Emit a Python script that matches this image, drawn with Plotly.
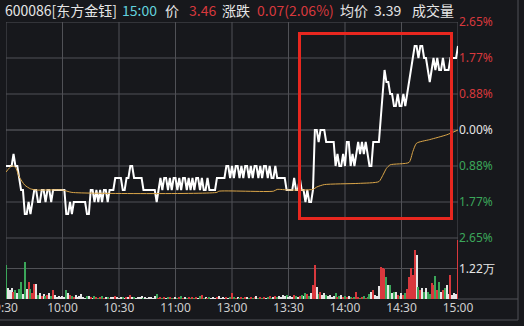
import plotly.graph_objects as go

# ---------------- data ----------------
PREV_CLOSE = 3.39

# minute-by-minute last price, 9:30 .. 11:30 | 13:00 .. 15:00 (241 points)
price = [
    3.36, 3.36, 3.36, 3.36, 3.37, 3.36, 3.36, 3.35, 3.34, 3.34,
    3.32, 3.32, 3.33, 3.32, 3.33, 3.34, 3.34, 3.33, 3.33, 3.34,
    3.34, 3.33, 3.34, 3.34, 3.33, 3.34, 3.34, 3.34, 3.34, 3.34,
    3.34, 3.34, 3.32, 3.32, 3.33, 3.32, 3.33, 3.33, 3.33, 3.33,
    3.33, 3.33, 3.33, 3.32, 3.32, 3.34, 3.34, 3.33, 3.34, 3.33,
    3.34, 3.33, 3.34, 3.34, 3.33, 3.34, 3.34, 3.34, 3.35, 3.35,
    3.35, 3.35, 3.34, 3.34, 3.35, 3.35, 3.36, 3.36, 3.35, 3.35,
    3.35, 3.35, 3.35, 3.34, 3.34, 3.34, 3.34, 3.34, 3.34, 3.34,
    3.33, 3.34, 3.35, 3.34, 3.35, 3.35, 3.34, 3.35, 3.34, 3.35,
    3.35, 3.34, 3.35, 3.34, 3.35, 3.35, 3.34, 3.35, 3.34, 3.35,
    3.34, 3.35, 3.35, 3.34, 3.35, 3.34, 3.34, 3.35, 3.34, 3.34,
    3.34, 3.34, 3.35, 3.35, 3.35, 3.35, 3.35, 3.36, 3.36, 3.35,
    3.36, 3.35, 3.36, 3.36, 3.35, 3.36, 3.35, 3.36, 3.36, 3.35,
    3.36, 3.35, 3.36, 3.36, 3.35, 3.36, 3.35, 3.36, 3.36, 3.35,
    3.36, 3.35, 3.35, 3.36, 3.35, 3.35, 3.35, 3.35, 3.35, 3.34,
    3.34, 3.34, 3.34, 3.35, 3.34, 3.34, 3.35, 3.34, 3.34, 3.33,
    3.34, 3.33, 3.33, 3.34, 3.39, 3.39, 3.38, 3.39, 3.39, 3.39,
    3.38, 3.38, 3.38, 3.38, 3.38, 3.36, 3.37, 3.36, 3.36, 3.37,
    3.36, 3.38, 3.38, 3.36, 3.37, 3.36, 3.37, 3.38, 3.37, 3.38,
    3.37, 3.38, 3.37, 3.36, 3.36, 3.38, 3.38, 3.38, 3.38, 3.40,
    3.42, 3.44, 3.43, 3.43, 3.42, 3.42, 3.41, 3.41, 3.42, 3.41,
    3.41, 3.42, 3.41, 3.42, 3.43, 3.44, 3.45, 3.46, 3.46, 3.45,
    3.46, 3.46, 3.45, 3.45, 3.44, 3.43, 3.44, 3.45, 3.44, 3.45,
    3.44, 3.44, 3.45, 3.44, 3.44, 3.44, 3.45, 3.45, 3.45, 3.45,
    3.46,
]

# minute volume (lots)
volume = [
    13600, 4300, 3600, 4500, 2900, 3600, 2300, 3900, 6900, 2000,
    14900, 3900, 6900, 4100, 2400, 6000, 6000, 1600, 2400, 1200,
    2000, 1200, 1600, 2400, 1200, 3600, 1600, 800, 1200, 800,
    1200, 800, 3600, 2500, 1600, 1200, 800, 1600, 800, 1200,
    2000, 800, 400, 1200, 1200, 800, 400, 1200, 800, 400,
    800, 1200, 400, 800, 800, 400, 800, 800, 1200, 800,
    400, 800, 800, 400, 800, 800, 1600, 800, 800, 400,
    800, 800, 1200, 400, 800, 400, 800, 800, 400, 1200,
    2000, 400, 800, 400, 800, 400, 800, 800, 400, 400,
    800, 400, 800, 1200, 400, 800, 400, 800, 400, 800,
    400, 800, 400, 1200, 1600, 400, 800, 400, 800, 400,
    800, 400, 800, 1200, 400, 800, 400, 800, 400, 800,
    2500, 800, 400, 800, 400, 800, 400, 800, 800, 400,
    800, 400, 800, 1200, 400, 800, 400, 800, 400, 800,
    1200, 400, 800, 1200, 800, 1200, 800, 1600, 1200, 1600,
    800, 1200, 800, 1600, 1200, 800, 1200, 1600, 1200, 2300,
    2000, 1200, 2400, 5600, 13600, 4900, 2000, 2900, 1600, 2300,
    1600, 1200, 1600, 800, 1200, 2300, 800, 1200, 1600, 800,
    1200, 800, 1200, 800, 400, 800, 2900, 800, 400, 800,
    1200, 400, 800, 2000, 2900, 3600, 1600, 1200, 5200, 12900,
    12300, 11900, 8900, 5600, 5600, 2300, 2900, 2900, 1600, 1200,
    2300, 1600, 2500, 3900, 8900, 12300, 9600, 19600, 17600, 4900,
    3600, 4300, 2900, 4300, 2900, 2000, 6300, 5600, 9200, 3600,
    6900, 2900, 3600, 4300, 5600, 2000, 9600, 1600, 2400, 2000,
    23600,
]

# average price line, read at selected minutes
avg_min = [0, 3, 5, 7, 10, 13, 16, 30, 35, 112, 113, 142, 144, 150, 163, 165,
           169, 187, 198, 200, 202, 204, 214, 216, 218, 225, 234, 240]
avg_price = [3.355, 3.360, 3.359, 3.351, 3.344, 3.341, 3.340, 3.340, 3.338,
             3.338, 3.339, 3.339, 3.3405, 3.340, 3.3405, 3.3425, 3.3445,
             3.3455, 3.347, 3.352, 3.358, 3.361, 3.363, 3.372, 3.379, 3.382,
             3.386, 3.390]

time_ticks = [0, 30, 60, 90, 120, 150, 180, 210, 240]
time_labels = ["9:30", "10:00", "10:30", "11:00", "13:00", "13:30", "14:00", "14:30", "15:00"]

pct_tickvals = [3.30, 3.33, 3.36, 3.39, 3.42, 3.45, 3.48]
pct_ticktext = ["2.65%", "1.77%", "0.88%", "0.00%", "0.88%", "1.77%", "2.65%"]

vol_tickvals = [0, 12200, 24400]
vol_ticktext = ["", "1.22万", ""]

# ---------------- style ----------------
BG = "#17181c"
GRID = "#505156"
RED = "#d8383d"
GREEN = "#3ba65a"
WHITE = "#e6e6e6"
CYAN = "#62d2dc"
ORANGE = "#dba649"
FONT = "Noto Sans"
CJK = "Noto Sans CJK SC"

W, H = 524, 326
L, R, T, B = 6, 458, 22, 299        # plot area in pixels
VOL_TOP = 238


def px_x(px):
    return (px - L) / (R - L)


def px_y(py):
    return (B - py) / (B - T)


minutes = list(range(len(price)))

bar_colors = []
for i, p in enumerate(price):
    ref = PREV_CLOSE if i == 0 else price[i - 1]
    bar_colors.append(RED if p > ref else (GREEN if p < ref else WHITE))


def colored_pct(val, txt):
    if abs(val - PREV_CLOSE) < 1e-9:
        c = WHITE
    elif val > PREV_CLOSE:
        c = RED
    else:
        c = GREEN
    return f'<span style="color:{c}">{txt}</span>'


pct_labels = [colored_pct(v, t) for v, t in zip(pct_tickvals, pct_ticktext)]

fig = go.Figure()

fig.add_trace(go.Scatter(
    x=minutes, y=price, mode="lines",
    line=dict(color="#ffffff", width=2),
    xaxis="x", yaxis="y", hoverinfo="skip", showlegend=False))

fig.add_trace(go.Scatter(
    x=avg_min, y=avg_price, mode="lines",
    line=dict(color=ORANGE, width=1, shape="spline", smoothing=0.6),
    xaxis="x", yaxis="y", hoverinfo="skip", showlegend=False))

fig.add_trace(go.Bar(
    x=minutes, y=volume, marker=dict(color=bar_colors, line=dict(width=0)),
    width=0.6, xaxis="x2", yaxis="y2", hoverinfo="skip", showlegend=False))

vol_frac = (B - VOL_TOP) / (B - T)

axis_common = dict(showline=False, zeroline=False, showgrid=False,
                   ticks="", fixedrange=True)

fig.update_layout(
    template="none",
    width=W, height=H,
    margin=dict(l=L, r=W - R, t=T, b=H - B, pad=0),
    paper_bgcolor=BG, plot_bgcolor=BG,
    bargap=0,
    xaxis=dict(domain=[0, 1], range=[0, 240], anchor="y", tickvals=time_ticks,
               showticklabels=False, **axis_common),
    xaxis2=dict(domain=[0, 1], range=[0, 240], anchor="y2",
                tickvals=time_ticks, ticktext=time_labels, ticklabeloverflow="allow",
                tickfont=dict(family=FONT, size=12, color="#cfcfcf"), **axis_common),
    yaxis=dict(domain=[vol_frac, 1], range=[3.30, 3.48], anchor="x", side="right",
               tickvals=pct_tickvals, ticktext=pct_labels, ticklabeloverflow="allow",
               tickfont=dict(family=FONT, size=12), **axis_common),
    yaxis2=dict(domain=[0, vol_frac], range=[0, 24400], anchor="x2", side="right",
                tickvals=vol_tickvals, ticktext=vol_ticktext,
                tickfont=dict(family=FONT, size=12, color=WHITE), **axis_common),
)

# grid drawn from the tick arrays
for t in time_ticks:
    fig.add_shape(type="line", xref="x", yref="paper", x0=t, x1=t, y0=0, y1=1,
                  line=dict(color=GRID, width=1), layer="below")
for v in pct_tickvals:
    col = "#66676c" if abs(v - PREV_CLOSE) < 1e-9 else GRID
    fig.add_shape(type="line", xref="x", yref="y", x0=0, x1=240, y0=v, y1=v,
                  line=dict(color=col, width=1), layer="below")
for v in vol_tickvals:
    fig.add_shape(type="line", xref="x2", yref="y2", x0=0, x1=240, y0=v, y1=v,
                  line=dict(color=GRID, width=1), layer="below")

# frame lines outside the plot
fig.add_shape(type="line", xref="paper", yref="paper", x0=px_x(R), x1=px_x(518),
              y0=0, y1=0, line=dict(color=GRID, width=1))
fig.add_shape(type="line", xref="paper", yref="paper", x0=px_x(518), x1=px_x(518),
              y0=px_y(0), y1=px_y(320), line=dict(color=GRID, width=1))
fig.add_shape(type="line", xref="paper", yref="paper", x0=px_x(0), x1=px_x(518),
              y0=px_y(320), y1=px_y(320), line=dict(color=GRID, width=1))

# red highlight box
fig.add_shape(type="rect", xref="paper", yref="paper",
              x0=px_x(299.5), x1=px_x(451.5), y0=px_y(218.5), y1=px_y(33.5),
              line=dict(color="#e8271f", width=3), fillcolor="rgba(0,0,0,0)")

# header text
header = [
    (3, "600086[东方金钰]", WHITE),
    (120, "15:00", CYAN),
    (163, "价", WHITE),
    (187, "3.46", RED),
    (220, "涨跌", WHITE),
    (255, "0.07(2.06%)", RED),
    (338, "均价", WHITE),
    (372, "3.39", WHITE),
    (410, "成交量", WHITE),
]
for px, txt, col in header:
    fig.add_annotation(xref="paper", yref="paper", x=px_x(px), y=px_y(10),
                       xanchor="left", yanchor="middle", showarrow=False,
                       text=txt, font=dict(family=CJK, size=14, color=col))

fig.write_html("out.html")
